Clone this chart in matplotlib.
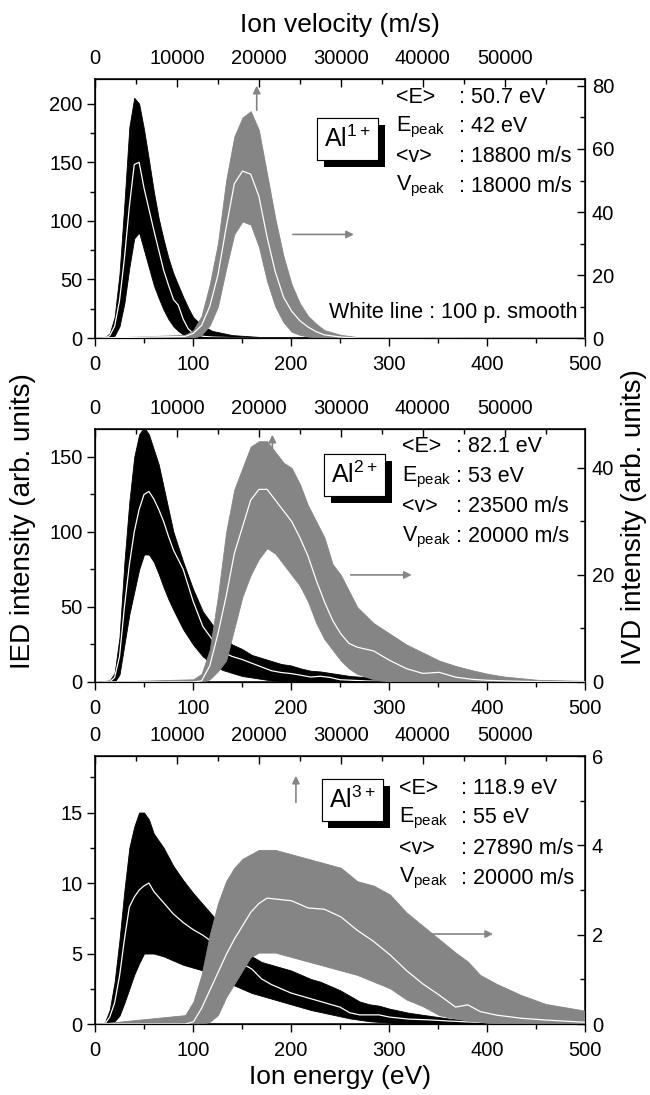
import matplotlib.pyplot as plt
import matplotlib.patheffects as pe
from matplotlib.ticker import MultipleLocator

# ---- Al1+ : ion energy distribution (black, left axis) ----
al1_energy = [0, 10, 15, 20, 25, 30, 35, 40, 45, 50, 55, 60, 65, 70, 75, 80, 85, 90, 95, 100,
              110, 120, 140, 170, 500]
al1_ied_smooth = [0, 0, 2, 10, 32, 68, 112, 148, 150, 128, 110, 92, 75, 58, 45, 33, 28, 16, 8, 4,
                  1.5, 0.8, 0.3, 0, 0]
al1_ied_upper = [0, 0.5, 4, 18, 55, 115, 180, 205, 200, 178, 152, 125, 102, 84, 68, 55, 45, 35, 26, 18,
                 10, 6, 2.5, 0.8, 0]
al1_ied_lower = [0, 0, 0, 2, 10, 30, 60, 85, 90, 75, 60, 45, 34, 24, 16, 10, 6, 3, 1, 0,
                 0, 0, 0, 0, 0]
# ---- Al1+ : ion velocity distribution (grey, right/top axes) ----
al1_velocity = [0, 11000, 12000, 13000, 14000, 15000, 16000, 17000, 18000, 19000, 20000, 21000,
                22000, 23000, 24000, 25000, 26000, 27000, 28000, 30000, 32000, 59800]
al1_ivd_smooth = [0, 0.5, 1.5, 4, 10, 20, 35, 49, 53, 52, 45, 32, 21, 13, 8.5, 5.5, 3.5, 2, 1, 0.3, 0, 0]
al1_ivd_upper = [0, 1, 2.5, 7, 17, 30, 50, 64, 70, 72, 66, 52, 38, 26, 17, 11, 7, 4.5, 2.5, 1, 0.3, 0]
al1_ivd_lower = [0, 0, 0, 1, 4, 10, 22, 33, 37, 36, 29, 18, 10, 5, 2, 1, 0.5, 0, 0, 0, 0, 0]

# ---- Al2+ ----
al2_energy = [0, 15, 20, 25, 30, 35, 40, 45, 50, 55, 60, 65, 70, 75, 80, 90, 100, 110, 120, 130,
              140, 150, 160, 170, 180, 190, 200, 210, 220, 230, 240, 250, 260, 280, 300, 320, 350, 400, 500]
al2_ied_smooth = [0, 0, 3, 17, 50, 78, 100, 115, 125, 127, 122, 115, 107, 97, 88, 75, 54, 37, 28, 20,
                  17, 15, 12.5, 10, 7.5, 6.3, 5.6, 4.5, 3.3, 3.8, 3, 1.5, 1.2, 0.6, 0.4, 0.2, 0.1, 0, 0]
al2_ied_upper = [0, 1, 6, 30, 80, 120, 150, 165, 170, 165, 155, 145, 130, 115, 100, 80, 62, 47, 38, 30,
                 25, 22, 18, 16, 14, 12, 11, 9, 7.5, 7, 6, 5, 4, 3, 2, 1.2, 0.6, 0.2, 0]
al2_ied_lower = [0, 0, 0, 5, 25, 45, 60, 75, 85, 85, 80, 72, 63, 55, 48, 35, 25, 17, 12, 8,
                 6, 4, 3, 2, 1, 0.7, 0.5, 0.2, 0, 0, 0, 0, 0, 0, 0, 0, 0, 0, 0]
al2_velocity = [0, 12000, 13000, 14000, 15000, 16000, 17000, 18000, 19000, 20000, 21000, 22000,
                23000, 24000, 25000, 26000, 27000, 28000, 29000, 30000, 31000, 32000, 34000, 36000,
                38000, 40000, 42000, 44000, 46000, 48000, 50000, 54000, 59800]
al2_ivd_smooth = [0, 0, 0.2, 3, 9, 16, 24, 29, 34, 36, 36, 34, 32, 30, 27, 23.5, 19, 15, 11.5, 9,
                  7.2, 6.5, 5.8, 4, 2.5, 1.6, 1.8, 0.9, 0.5, 0.3, 0.2, 0.05, 0]
al2_ivd_upper = [0, 0.5, 1.5, 6, 16, 28, 36, 40, 44, 45, 45, 43, 41, 40, 37, 33, 30, 27, 22, 20,
                 17, 14, 11, 9, 7, 5.5, 4, 3, 2.2, 1.5, 1, 0.4, 0.2]
al2_ivd_lower = [0, 0, 0, 0.5, 2, 4, 10, 16, 20, 23, 25, 24, 22, 20, 18, 15, 11, 8, 6, 4,
                 2.5, 1.5, 0.5, 0, 0, 0, 0, 0, 0, 0, 0, 0, 0]

# ---- Al3+ ----
al3_energy = [0, 10, 15, 20, 25, 30, 35, 40, 45, 50, 55, 60, 70, 80, 90, 100, 110, 120, 130, 140,
              150, 160, 170, 180, 190, 200, 210, 220, 230, 240, 250, 260, 270, 280, 290, 300, 320,
              340, 360, 380, 400, 450, 500]
al3_ied_smooth = [0, 0, 0.5, 1.5, 3.4, 6, 8.3, 9.0, 9.5, 9.8, 10, 9.4, 8.6, 7.8, 7.2, 6.7, 6.3, 5.8,
                  5.3, 4.8, 4.3, 3.9, 3.2, 2.8, 2.5, 2.2, 2.0, 1.8, 1.6, 1.4, 1.2, 0.8, 0.65, 0.65,
                  0.65, 0.5, 0.35, 0.3, 0.22, 0.15, 0.1, 0.05, 0]
al3_ied_upper = [0, 0.1, 1, 3, 6, 9.5, 12.5, 14, 15, 15, 14.5, 13.5, 12.5, 11.2, 10.2, 9.3, 8.5, 7.7,
                 6.8, 6, 5.3, 4.8, 4.4, 4.2, 4.0, 3.8, 3.5, 3.2, 3.0, 2.7, 2.4, 2.0, 1.6, 1.4, 1.3,
                 1.1, 0.8, 0.6, 0.4, 0.25, 0.15, 0.06, 0]
al3_ied_lower = [0, 0, 0, 0.2, 0.6, 1.5, 2.5, 3.5, 4.3, 5, 5, 5, 4.8, 4.5, 4.2, 4, 3.8, 3.5, 3, 2.8,
                 2.5, 2.2, 2, 1.8, 1.6, 1.4, 1.2, 1, 0.85, 0.7, 0.55, 0.4, 0.3, 0.2, 0.15, 0.1, 0.05,
                 0, 0, 0, 0, 0, 0]
al3_velocity = [0, 11000, 12000, 13000, 14000, 15000, 16000, 17000, 18000, 19000, 20000, 21000,
                22000, 24000, 26000, 28000, 30000, 32000, 34000, 36000, 38000, 40000, 42000, 44000,
                45500, 47000, 49000, 52000, 55000, 59800]
al3_ivd_smooth = [0, 0, 0.05, 0.35, 0.75, 1.15, 1.55, 1.9, 2.2, 2.5, 2.7, 2.82, 2.8, 2.76, 2.6, 2.57,
                  2.4, 2.1, 1.85, 1.55, 1.2, 0.9, 0.65, 0.38, 0.43, 0.28, 0.2, 0.13, 0.09, 0.04]
al3_ivd_upper = [0, 0.2, 0.5, 1.1, 2.0, 2.7, 3.2, 3.5, 3.7, 3.8, 3.9, 3.9, 3.9, 3.8, 3.7, 3.6, 3.5,
                 3.2, 3.1, 2.9, 2.5, 2.2, 1.9, 1.6, 1.4, 1.1, 0.9, 0.65, 0.45, 0.3]
al3_ivd_lower = [0, 0, 0, 0, 0.05, 0.2, 0.6, 0.9, 1.2, 1.5, 1.6, 1.6, 1.6, 1.5, 1.4, 1.3, 1.2, 1.1,
                 0.95, 0.8, 0.55, 0.4, 0.2, 0.12, 0.08, 0.05, 0, 0, 0, 0]

# labels
ion_labels = [r'Al$^{1+}$', r'Al$^{2+}$', r'Al$^{3+}$']
stat_names = ['<E>', r'E$_{\rm peak}$', '<v>', r'V$_{\rm peak}$']
al1_stats = [': 50.7 eV', ': 42 eV', ': 18800 m/s', ': 18000 m/s']
al2_stats = [': 82.1 eV', ': 53 eV', ': 23500 m/s', ': 20000 m/s']
al3_stats = [': 118.9 eV', ': 55 eV', ': 27890 m/s', ': 20000 m/s']

plt.rcParams['font.family'] = ['Liberation Sans', 'DejaVu Sans']
plt.rcParams['mathtext.fontset'] = 'custom'
plt.rcParams['mathtext.rm'] = 'Liberation Sans'
plt.rcParams['mathtext.it'] = 'Liberation Sans:italic'
plt.rcParams['mathtext.bf'] = 'Liberation Sans:bold'

GREY = '#858585'
FS = 14.5     # tick labels
FS_TXT = 15.5  # annotations
FS_LAB = 19   # axis titles

panels = [
    dict(rect=[0.1462, 0.6913, 0.7538, 0.2365],
         E=al1_energy, ied=(al1_ied_lower, al1_ied_upper, al1_ied_smooth),
         v=al1_velocity, ivd=(al1_ivd_lower, al1_ivd_upper, al1_ivd_smooth),
         ylim=221, yr=82.2, ymaj=50, yrmaj=20, stats=al1_stats,
         box=(0.515, 0.768), txt_y=[0.93, 0.815, 0.70, 0.585], txt_x=(0.615, 0.742),
         up=(0.33, 0.869, 0.985), right=(0.398, 0.534, 0.40)),
    dict(rect=[0.1462, 0.3772, 0.7538, 0.2311],
         E=al2_energy, ied=(al2_ied_lower, al2_ied_upper, al2_ied_smooth),
         v=al2_velocity, ivd=(al2_ivd_lower, al2_ivd_upper, al2_ivd_smooth),
         ylim=168.7, yr=47.3, ymaj=50, yrmaj=20, stats=al2_stats,
         box=(0.53, 0.818), txt_y=[0.929, 0.81, 0.692, 0.573], txt_x=(0.627, 0.737),
         up=(0.362, 0.909, 0.988), right=(0.516, 0.652, 0.423)),
    dict(rect=[0.1462, 0.0648, 0.7538, 0.2447],
         E=al3_energy, ied=(al3_ied_lower, al3_ied_upper, al3_ied_smooth),
         v=al3_velocity, ivd=(al3_ivd_lower, al3_ivd_upper, al3_ivd_smooth),
         ylim=19.0, yr=6.0, ymaj=5, yrmaj=2, stats=al3_stats,
         box=(0.525, 0.836), txt_y=[0.88, 0.769, 0.657, 0.545], txt_x=(0.62, 0.746),
         up=(0.41, 0.817, 0.937), right=(0.682, 0.818, 0.336)),
]

fig = plt.figure(figsize=(6.5, 10.95), dpi=100)

for i, p in enumerate(panels):
    ax = fig.add_axes(p['rect'])
    lo, hi, sm = p['ied']
    ax.fill_between(p['E'], lo, hi, color='black', lw=0.6, edgecolor='black')
    ax.plot(p['E'], sm, color='white', lw=0.9)
    ax.set_xlim(0, 500)
    ax.set_ylim(0, p['ylim'])
    ax.xaxis.set_major_locator(MultipleLocator(100))
    ax.xaxis.set_minor_locator(MultipleLocator(50))
    ax.yaxis.set_major_locator(MultipleLocator(p['ymaj']))
    ax.yaxis.set_minor_locator(MultipleLocator(p['ymaj'] / 2))
    ax.tick_params(which='both', direction='out', width=1, labelsize=FS)
    ax.tick_params(axis='x', which='major', length=6, pad=6)
    ax.tick_params(axis='y', which='major', length=6, pad=3)
    ax.tick_params(which='minor', length=3.5)
    for s in ax.spines.values():
        s.set_linewidth(1.1)

    axr = ax.twinx()
    axr.set_ylim(0, p['yr'])
    axr.yaxis.set_major_locator(MultipleLocator(p['yrmaj']))
    axr.yaxis.set_minor_locator(MultipleLocator(p['yrmaj'] / 2))
    axr.tick_params(which='both', direction='in', width=1, labelsize=FS, pad=5)
    axr.tick_params(which='major', length=6)
    axr.tick_params(which='minor', length=3.5)

    axv = axr.twiny()
    axv.set_xlim(0, 59800)
    lo, hi, sm = p['ivd']
    axv.fill_between(p['v'], lo, hi, color=GREY, lw=0.6, edgecolor=GREY)
    axv.plot(p['v'], sm, color='white', lw=0.9)
    axv.xaxis.set_major_locator(MultipleLocator(10000))
    axv.xaxis.set_minor_locator(MultipleLocator(5000))
    axv.set_xticks([0, 10000, 20000, 30000, 40000, 50000])
    axv.tick_params(which='both', direction='in', width=1, labelsize=FS, pad=8)
    axv.tick_params(which='major', length=6)
    axv.tick_params(which='minor', length=3.5)

    # ion label box with drop shadow
    t = axv.text(p['box'][0], p['box'][1], ion_labels[i], transform=axv.transAxes,
                 fontsize=18, ha='center', va='center', zorder=10,
                 bbox=dict(boxstyle='square,pad=0.3', fc='white', ec='black', lw=0.8))
    t.get_bbox_patch().set_path_effects([
        pe.withSimplePatchShadow(offset=(5, -5), shadow_rgbFace='black', alpha=1),
        pe.Normal()])

    for name, val, y in zip(stat_names, p['stats'], p['txt_y']):
        axv.text(p['txt_x'][0], y, name, transform=axv.transAxes, fontsize=FS_TXT,
                 ha='left', va='center')
        axv.text(p['txt_x'][1], y, val, transform=axv.transAxes, fontsize=FS_TXT,
                 ha='left', va='center')

    ux, uy0, uy1 = p['up']
    axv.annotate('', xy=(ux, uy1), xytext=(ux, uy0), xycoords='axes fraction',
                 arrowprops=dict(arrowstyle='-|>', color=GREY, lw=1.2, mutation_scale=11))
    rx0, rx1, ry = p['right']
    axv.annotate('', xy=(rx1, ry), xytext=(rx0, ry), xycoords='axes fraction',
                 arrowprops=dict(arrowstyle='-|>', color=GREY, lw=1.2, mutation_scale=11))

    if i == 0:
        axv.set_xlabel('Ion velocity (m/s)', fontsize=FS_LAB, labelpad=12)
        axv.text(0.985, 0.10, 'White line : 100 p. smooth', transform=axv.transAxes,
                 fontsize=FS_TXT, ha='right', va='center')
    if i == 2:
        ax.set_xlabel('Ion energy (eV)', fontsize=FS_LAB, labelpad=4)

fig.text(0.036, 0.524, 'IED intensity (arb. units)', rotation=90, fontsize=20,
         ha='center', va='center')
fig.text(0.976, 0.528, 'IVD intensity (arb. units)', rotation=90, fontsize=20,
         ha='center', va='center')

fig.savefig('out.png', dpi=100)
